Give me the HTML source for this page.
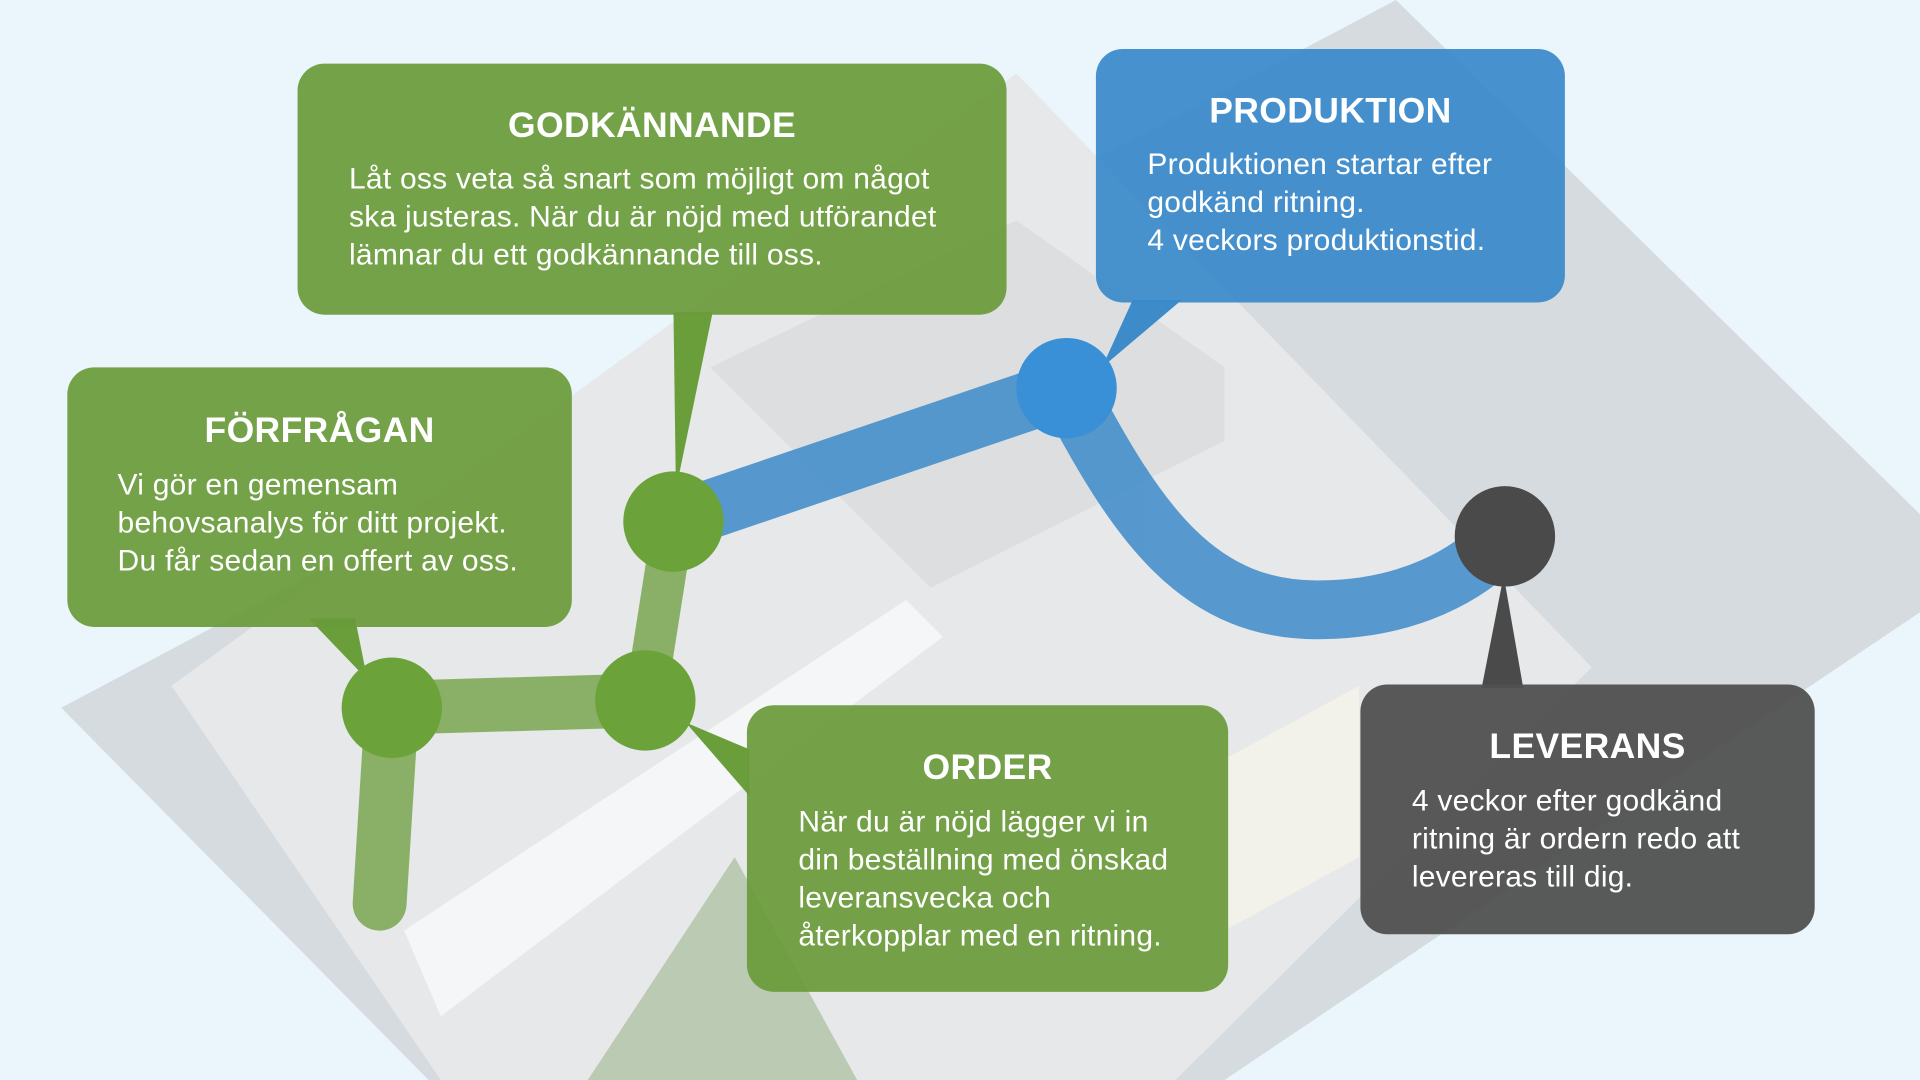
<!DOCTYPE html>
<html><head><meta charset="utf-8"><style>
html,body{margin:0;padding:0;width:1920px;height:1080px;overflow:hidden;background:#eaf6fc;}
#s{position:absolute;left:0;top:0;width:1568px;height:882px;transform:scale(1.22449);transform-origin:0 0;font-family:"Liberation Sans",sans-serif;}
.b{position:absolute;border-radius:22px;color:#fff;box-sizing:border-box;}
.b h2{margin:0;font-size:29px;font-weight:bold;text-align:center;letter-spacing:0.3px;}
.b p{margin:0;font-size:24.5px;line-height:31px;letter-spacing:0.2px;}
</style></head><body><div id="s">
<svg width="1568" height="882" style="position:absolute;left:0;top:0">
<polygon points="50,578 1140,0 1568,420 1568,500 1000,882 350,882" fill="#d6dbe0"/>
<polygon points="140,560 830,60 1300,545 960,882 360,882" fill="#e6e8ea"/>
<polygon points="330,760 740,490 770,520 360,830" fill="#f4f6f7"/>
<polygon points="580,300 830,180 1000,300 1000,360 760,480" fill="#dcdedf"/>
<polygon points="600,700 700,882 480,882" fill="#9fb58e" opacity="0.6"/>
<polygon points="1000,620 1110,560 1110,700 1000,760" fill="#f3f2ea"/>
<g opacity="0.85">
<line x1="550" y1="426" x2="871" y2="317" stroke="#3d8bc9" stroke-width="48"/>
<path d="M871,317 C930,430 980,500 1080,498 C1150,497 1200,470 1229,438" fill="none" stroke="#3d8bc9" stroke-width="48"/>
</g>
<g opacity="0.75" stroke="#6a9e3a" stroke-linecap="round">
<line x1="320" y1="578" x2="527" y2="572" stroke-width="44"/>
<line x1="320" y1="578" x2="310" y2="738" stroke-width="44"/>
<line x1="527" y1="572" x2="550" y2="426" stroke-width="34"/>
</g>
<polygon points="550,255 582,255 552,400" fill="#6a9e3a"/>
<polygon points="252,505 290,505 300,555" fill="#6a9e3a"/>
<polygon points="560,590 612,612 612,650" fill="#6a9e3a"/>
<polygon points="925,245 965,245 900,300" fill="#3d8bc9"/>
<polygon points="1210,562 1244,562 1228,470" fill="#4a4a4a"/>
<circle cx="550" cy="426" r="41" fill="#6ba33a"/>
<circle cx="320" cy="578" r="41" fill="#6ba33a"/>
<circle cx="527" cy="572" r="41" fill="#6ba33a"/>
<circle cx="871" cy="317" r="41" fill="#3990d6"/>
<circle cx="1229" cy="438" r="41" fill="#4a4a4a"/>
</svg>
<div class="b" style="left:243px;top:52px;width:579px;height:205px;background:rgba(106,155,58,0.93);padding:35px 0 0 42px"><h2 style="margin-left:-42px">GODKÄNNANDE</h2><p style="margin-top:11px">Låt oss veta så snart som möjligt om något<br>ska justeras. När du är nöjd med utförandet<br>lämnar du ett godkännande till oss.</p></div>
<div class="b" style="left:895px;top:40px;width:383px;height:207px;background:rgba(58,138,202,0.93);padding:35px 0 0 42px"><h2 style="margin-left:-42px">PRODUKTION</h2><p style="margin-top:11px">Produktionen startar efter<br>godkänd ritning.<br>4 veckors produktionstid.</p></div>
<div class="b" style="left:55px;top:300px;width:412px;height:212px;background:rgba(106,155,58,0.93);padding:36px 0 0 41px"><h2 style="margin-left:-41px">FÖRFRÅGAN</h2><p style="margin-top:12px">Vi gör en gemensam<br>behovsanalys för ditt projekt.<br>Du får sedan en offert av oss.</p></div>
<div class="b" style="left:610px;top:576px;width:393px;height:234px;background:rgba(106,155,58,0.93);padding:35px 0 0 42px"><h2 style="margin-left:-42px">ORDER</h2><p style="margin-top:12px">När du är nöjd lägger vi in<br>din beställning med önskad<br>leveransvecka och<br>återkopplar med en ritning.</p></div>
<div class="b" style="left:1111px;top:559px;width:371px;height:204px;background:rgba(80,80,80,0.95);padding:35px 0 0 42px"><h2 style="margin-left:-42px">LEVERANS</h2><p style="margin-top:12px">4 veckor efter godkänd<br>ritning är ordern redo att<br>levereras till dig.</p></div>
</div></body></html>
